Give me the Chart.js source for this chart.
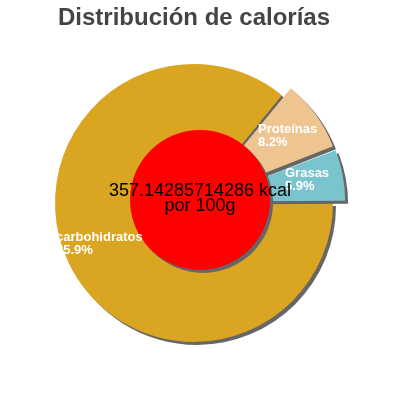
<!DOCTYPE html>
<html>
<head>
<meta charset="utf-8">
<script src="https://cdn.jsdelivr.net/npm/chart.js@4/dist/chart.umd.min.js"></script>
<style>
  html, body { margin: 0; padding: 0; background: #fff; }
  #wrap { width: 400px; height: 400px; }
</style>
</head>
<body>
<div id="wrap"><canvas id="myChart" width="400" height="400"></canvas></div>
<script>
// data
const categories = ['carbohidratos', 'Proteínas', 'Grasas'];
const percentValues = [85.9, 8.2, 5.9];
const kcalText = '357.14285714286 kcal';
const perText = 'por 100g';
const chartTitle = 'Distribución de calorías';

const sliceColors = ['#DAA520', '#EEC591', '#7AC5CD'];
const sliceOffsets = [0, 30, 30];
const labelOffsets = [[-138, 38], [64, -70], [91, -26]]; // label anchor from pie centre
const FONT = '"Liberation Sans", Arial, Helvetica, sans-serif';

const shadowPlugin = {
    id: 'shadow',
    beforeDatasetsDraw(chart) {
        let ctx = chart.ctx;
        ctx.save();
        ctx.shadowColor = '#666666';
        ctx.shadowOffsetX = 3;
        ctx.shadowOffsetY = 3;
        ctx.shadowBlur = 0;
    },
    afterDatasetsDraw(chart) {
        let ctx = chart.ctx;
        ctx.restore();
        let arcs = chart.getDatasetMeta(0).data;
        let cx = arcs[0].x, cy = arcs[0].y;

        // red circle in the middle
        ctx.save();
        ctx.shadowColor = '#666666';
        ctx.shadowOffsetX = 3;
        ctx.shadowOffsetY = 3;
        ctx.beginPath();
        ctx.arc(cx + 6, cy - 3, 70, 0, Math.PI * 2);
        ctx.fillStyle = '#FF0000';
        ctx.fill();
        ctx.restore();

        // slice labels
        ctx.save();
        ctx.font = 'bold 13px ' + FONT;
        ctx.fillStyle = '#FFFFFF';
        ctx.textAlign = 'left';
        ctx.textBaseline = 'alphabetic';
        categories.forEach((c, i) => {
            let x = cx + labelOffsets[i][0];
            let y = cy + labelOffsets[i][1];
            ctx.fillText(c, x, y);
            ctx.fillText(percentValues[i].toFixed(1) + '%', x, y + 13);
        });
        ctx.restore();

        // centre text
        ctx.save();
        ctx.font = '18px ' + FONT;
        ctx.fillStyle = '#000000';
        ctx.textAlign = 'center';
        ctx.fillText(kcalText, cx + 6, cy - 7);
        ctx.fillText(perText, cx + 6, cy + 8);
        ctx.restore();
    }
};

let ctx = document.getElementById('myChart').getContext('2d');
let chart = new Chart(ctx, {
    type: 'pie',
    data: {
        labels: categories,
        datasets: [{
            data: percentValues,
            backgroundColor: sliceColors,
            borderWidth: 0,
            offset: sliceOffsets
        }]
    },
    options: {
        responsive: false,
        animation: false,
        rotation: 90,
        radius: 139,
        layout: { padding: { left: 0, right: 12, top: 0, bottom: 35 } },
        plugins: {
            legend: { display: false },
            tooltip: { enabled: false },
            title: {
                display: true,
                text: chartTitle,
                color: '#444444',
                font: { family: FONT, size: 24, weight: 'bold' },
                padding: { top: 4, bottom: 8 }
            }
        }
    },
    plugins: [shadowPlugin]
});
</script>
</body>
</html>
